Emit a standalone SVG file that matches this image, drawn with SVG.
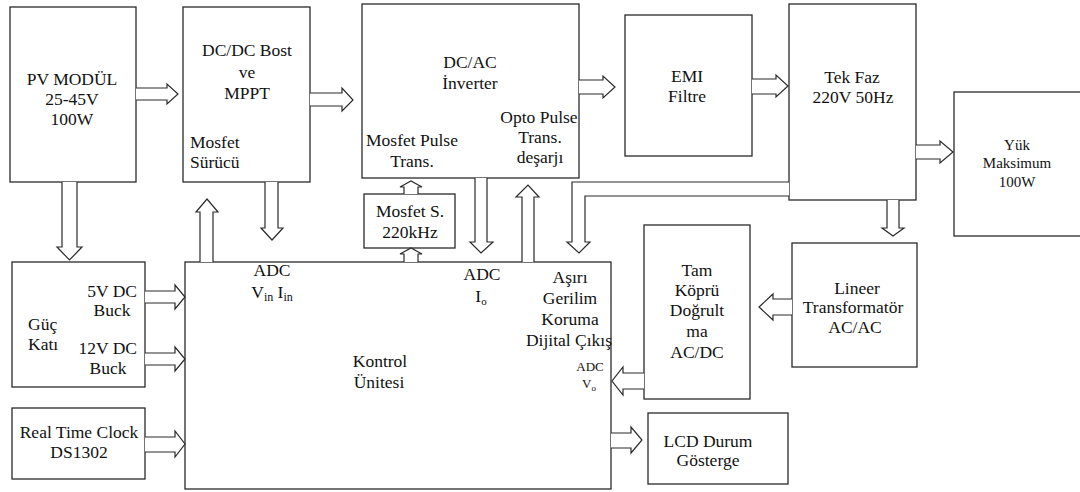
<svg xmlns="http://www.w3.org/2000/svg" width="1080" height="492" viewBox="0 0 1080 492">
<style>
.box{fill:#fff;stroke:#2a2a2a;stroke-width:1.3}
.arr{fill:#fff;stroke:#2a2a2a;stroke-width:1.2;stroke-linejoin:miter}
text{font-family:"Liberation Serif","Times New Roman",serif;font-size:17.5px;fill:#111;text-anchor:middle}
.sm{font-size:15px}
.xs{font-size:13px}
.l{text-anchor:start}
.r{text-anchor:end}
</style>
<rect width="1080" height="492" fill="#fff"/>

<g id="node-pv"><rect class="box" x="10" y="7" width="126" height="175"/>
<text x="72" y="85">PV MODÜL</text><text x="72" y="105">25-45V</text><text x="72" y="125">100W</text></g>

<g id="node-dcdc"><rect class="box" x="183" y="7" width="127" height="175"/>
<text x="247" y="56">DC/DC Bost</text><text x="247" y="78">ve</text><text x="247" y="99">MPPT</text>
<text class="l" x="190" y="148">Mosfet</text><text class="l" x="190" y="168">Sürücü</text></g>

<g id="node-dcac"><rect class="box" x="362" y="4" width="217" height="174"/>
<text x="470" y="68">DC/AC</text><text x="470" y="89">İnverter</text>
<text x="539" y="123">Opto Pulse</text><text x="540" y="143">Trans.</text><text x="540" y="163">deşarjı</text>
<text x="412" y="146">Mosfet Pulse</text><text x="412" y="167">Trans.</text></g>

<g id="node-emi"><rect class="box" x="625" y="15" width="127" height="141"/>
<text x="687" y="82">EMI</text><text x="687" y="102">Filtre</text></g>

<g id="node-tekfaz"><rect class="box" x="789" y="4" width="127" height="196"/>
<text x="852" y="83">Tek Faz</text><text x="853" y="103">220V 50Hz</text></g>

<g id="node-yuk"><rect class="box" x="954" y="92" width="130" height="144"/>
<text class="sm" x="1017" y="150">Yük</text><text class="sm" x="1017" y="168">Maksimum</text><text class="sm" x="1017" y="187">100W</text></g>

<g id="node-mosfets"><rect class="box" x="364" y="194" width="91" height="54"/>
<text x="410" y="217">Mosfet S.</text><text x="410" y="238">220kHz</text></g>

<g id="node-guc"><rect class="box" x="12" y="262" width="133" height="125"/>
<text class="l" x="28" y="330">Güç</text><text class="l" x="28" y="350">Katı</text>
<text class="r" x="137" y="297">5V DC</text><text x="112" y="316">Buck</text>
<text class="r" x="137" y="354">12V DC</text><text x="108" y="374">Buck</text></g>

<g id="node-rtc"><rect class="box" x="12" y="408" width="133" height="71"/>
<text x="79" y="438">Real Time Clock</text><text x="79" y="458">DS1302</text></g>

<g id="node-kontrol"><rect class="box" x="185" y="262" width="426" height="227"/>
<text x="272" y="276">ADC</text>
<text x="272" y="298">V<tspan font-size="12" dy="3">in</tspan><tspan dy="-3"> I</tspan><tspan font-size="12" dy="3">in</tspan></text>
<text x="482" y="280">ADC</text>
<text x="481" y="302">I<tspan font-size="11" dy="3">o</tspan></text>
<text x="570" y="283">Aşırı</text><text x="570" y="304">Gerilim</text><text x="570" y="325">Koruma</text><text x="569" y="346">Dijital Çıkış</text>
<text class="xs" x="590" y="371">ADC</text>
<text class="xs" x="589" y="388">V<tspan font-size="9" dy="3">o</tspan></text>
<text x="380" y="367">Kontrol</text><text x="379" y="388">Ünitesi</text></g>

<g id="node-tam"><rect class="box" x="644" y="225" width="106" height="174"/>
<text x="697" y="276">Tam</text><text x="697" y="296">Köprü</text><text x="697" y="316">Doğrult</text><text x="697" y="337">ma</text><text x="697" y="358">AC/DC</text></g>

<g id="node-lineer"><rect class="box" x="792" y="243" width="125" height="124"/>
<text x="857" y="294">Lineer</text><text x="853" y="313">Transformatör</text><text x="855" y="333">AC/AC</text></g>

<g id="node-lcd"><rect class="box" x="648" y="413" width="140" height="71"/>
<text x="708" y="447">LCD Durum</text><text x="708" y="466">Gösterge</text></g>

<g id="connectors">
<!-- right arrows -->
<path class="arr" d="M136,88 H167 V84 L178,94 L167,104 V100 H136"/>
<path class="arr" d="M310,93 H342 V88 L353,100 L342,111 V106 H310"/>
<path class="arr" d="M579,80 H603 V76 L615,87 L603,98 V94 H579"/>
<path class="arr" d="M752,79 H776 V75 L788,86 L776,97 V94 H752"/>
<path class="arr" d="M916,145 H940 V141 L953,152 L940,163 V159 H916"/>
<path class="arr" d="M145,291 H175 V285 L185,297 L175,309 V303 H145"/>
<path class="arr" d="M145,353 H175 V347 L185,359 L175,371 V365 H145"/>
<path class="arr" d="M145,437 H175 V431 L185,444 L175,457 V452 H145"/>
<path class="arr" d="M611,433 H631 V427 L642,440 L631,453 V448 H611"/>
<!-- left arrows -->
<path class="arr" d="M792,299 H773 V294 L759,307 L773,320 V315 H792"/>
<path class="arr" d="M644,373 H623 V367 L612,381 L623,395 V389 H644"/>
<!-- vertical arrows -->
<path class="arr" d="M62,182 V247 H57 L69.5,260 L82,247 H77 V182"/>
<path class="arr" d="M265,182 V228 H261 L272,240 L283,228 H278 V182"/>
<path class="arr" d="M200,262 V212 H196 L207,199 L218,212 H213 V262"/>
<path class="arr" d="M475,178 V242 H470 L481,253 L493,242 H487 V178"/>
<path class="arr" d="M522,262 V197 H516 L528,185 L539,197 H534 V262"/>
<path class="arr" d="M887,200 V228 H882 L893,236 L904,228 H899 V200"/>
<!-- elbow arrow from Tek Faz -->
<path class="arr" d="M789,182 H572 V242 H567 L579,253 L590,242 H585 V196 H789"/>
<!-- small arrows around Mosfet S. -->
<path class="arr" d="M404,194 V187 H400 L411,181 L422,187 H418 V194"/>
<path class="arr" d="M404,262 V254 H400 L411,248 L422,254 H418 V262"/>
</g>
</svg>
